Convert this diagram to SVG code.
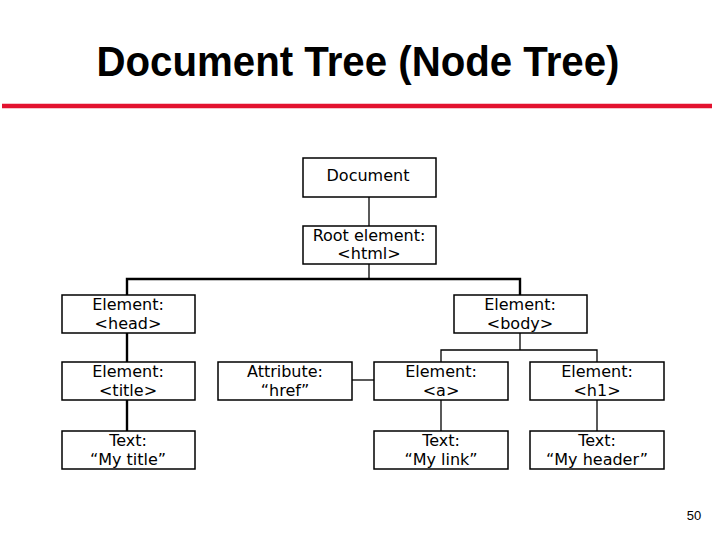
<svg xmlns="http://www.w3.org/2000/svg" width="717" height="538" viewBox="0 0 717 538">
<style>
.box{fill:#fff;stroke:#000;stroke-width:1.5}
.t{font-family:"DejaVu Sans",Verdana,sans-serif;font-size:16px;fill:#000;text-anchor:middle}
.thin{stroke:#000;stroke-width:1.3;fill:none}
.thick{stroke:#000;stroke-width:2.4;fill:none}
</style>
<rect width="717" height="538" fill="#fff"/>
<text x="358" y="76" font-family="Liberation Sans,Arial,sans-serif" font-weight="bold" font-size="43" text-anchor="middle" textLength="523" lengthAdjust="spacingAndGlyphs">Document Tree (Node Tree)</text>
<line x1="2" y1="106" x2="712" y2="106" stroke="#e3122f" stroke-width="4.5"/>
<g id="connectors">
<line class="thin" x1="369" y1="197" x2="369" y2="226"/>
<line class="thin" x1="369" y1="264" x2="369" y2="279"/>
<polyline class="thick" points="127,295 127,279 520,279 520,295"/>
<line class="thick" x1="127" y1="333" x2="127" y2="362"/>
<line class="thick" x1="127" y1="400" x2="127" y2="431"/>
<line class="thin" x1="520" y1="333" x2="520" y2="350"/>
<polyline class="thin" points="441,362 441,350 597,350 597,362"/>
<line class="thin" x1="352" y1="380" x2="374" y2="380"/>
<line class="thin" x1="441" y1="400" x2="441" y2="431"/>
<line class="thin" x1="597" y1="400" x2="597" y2="431"/>
</g>
<g id="document"><rect class="box" x="303" y="158" width="133" height="39"/><text class="t" x="368" y="181">Document</text></g>
<g id="root"><rect class="box" x="303" y="226" width="133" height="38"/><text class="t" x="369" y="241">Root element:</text><text class="t" x="369" y="259">&lt;html&gt;</text></g>
<g id="head"><rect class="box" x="62" y="295" width="133" height="38"/><text class="t" x="128" y="310">Element:</text><text class="t" x="128" y="329">&lt;head&gt;</text></g>
<g id="body"><rect class="box" x="454" y="295" width="133" height="38"/><text class="t" x="520" y="310">Element:</text><text class="t" x="520" y="329">&lt;body&gt;</text></g>
<g id="title"><rect class="box" x="62" y="362" width="133" height="38"/><text class="t" x="128" y="377">Element:</text><text class="t" x="128" y="396">&lt;title&gt;</text></g>
<g id="href"><rect class="box" x="218" y="362" width="134" height="38"/><text class="t" x="285" y="377">Attribute:</text><text class="t" x="285" y="396">“href”</text></g>
<g id="a"><rect class="box" x="374" y="362" width="134" height="38"/><text class="t" x="441" y="377">Element:</text><text class="t" x="441" y="396">&lt;a&gt;</text></g>
<g id="h1"><rect class="box" x="530" y="362" width="134" height="38"/><text class="t" x="597" y="377">Element:</text><text class="t" x="597" y="396">&lt;h1&gt;</text></g>
<g id="text-title"><rect class="box" x="62" y="431" width="133" height="38"/><text class="t" x="128" y="446">Text:</text><text class="t" x="128" y="465">“My title”</text></g>
<g id="text-link"><rect class="box" x="374" y="431" width="134" height="38"/><text class="t" x="441" y="446">Text:</text><text class="t" x="441" y="465">“My link”</text></g>
<g id="text-header"><rect class="box" x="530" y="431" width="134" height="38"/><text class="t" x="597" y="446">Text:</text><text class="t" x="597" y="465">“My header”</text></g>
<text x="694" y="520" font-family="Liberation Sans,Arial,sans-serif" font-size="13" text-anchor="middle">50</text>
</svg>
